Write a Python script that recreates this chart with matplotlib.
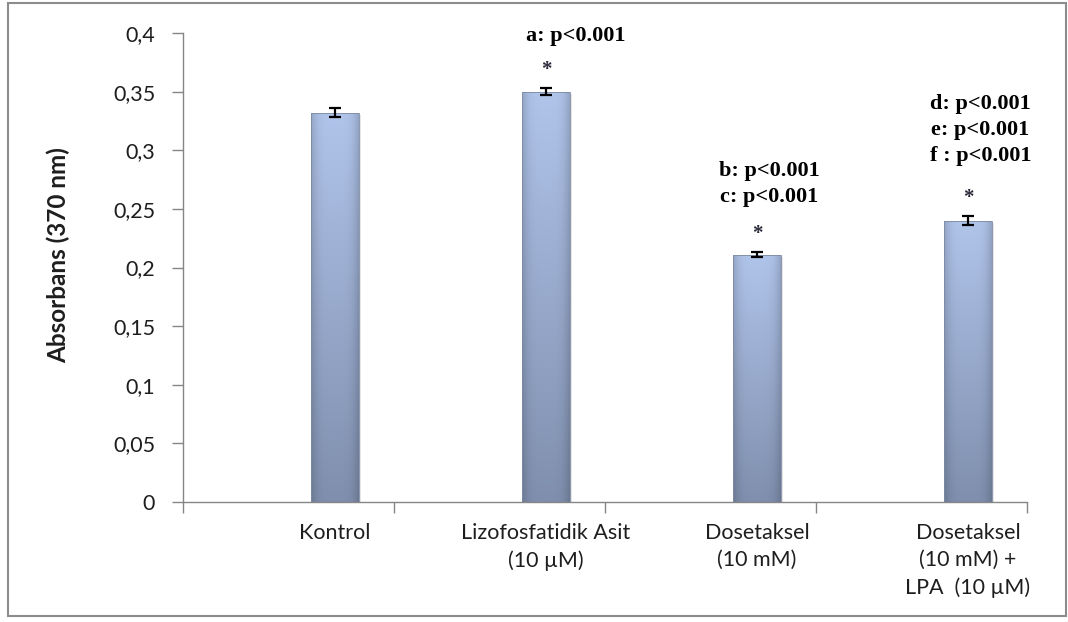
import numpy as np
import matplotlib.pyplot as plt
from matplotlib.patches import Rectangle
from matplotlib.ticker import FuncFormatter

groups = ['Kontrol', 'Lizofosfatidik Asit\n(10 µM)', 'Dosetaksel\n(10 mM)',
          'Dosetaksel\n(10 mM) +\nLPA  (10 µM)']
absorbance = [0.332, 0.350, 0.211, 0.240]
sem = [0.004, 0.003, 0.002, 0.004]
p_notes = ['', 'a: p<0.001', 'b: p<0.001\nc: p<0.001',
           'd: p<0.001\ne: p<0.001\nf : p<0.001']
significant = [False, True, True, True]

text_col = '#1e1e1e'
axis_col = '#868686'

fig = plt.figure(figsize=(10.68, 6.22), dpi=100)
ax = fig.add_axes([0.1713, 0.1929, 0.7903, 0.754])

pos = np.arange(len(groups)) + 0.72
width = 0.225

# vertical gradient + darker sides, like a rounded bar
top = np.array([0.69, 0.77, 0.92])
bottom = np.array([0.50, 0.56, 0.68])
ny, nx = 200, 40
t = np.linspace(0, 1, ny)[:, None, None]
grad = bottom + (top - bottom) * t
u = np.abs(np.linspace(-1, 1, nx))[None, :, None]
shade = 1 - 0.16 * u ** 4
img = np.clip(grad * shade, 0, 1)

for x, v in zip(pos, absorbance):
    sh = Rectangle((x - width / 2 + 0.012, 0), width, v - 0.002,
                   facecolor='#9a9a9a', alpha=0.25, lw=0, zorder=1)
    ax.add_patch(sh)
    rect = Rectangle((x - width / 2, 0), width, v, facecolor='none',
                     edgecolor='#7d8aa5', lw=0.6, zorder=3)
    ax.add_patch(rect)
    im = ax.imshow(img, extent=(x - width / 2, x + width / 2, 0, v),
                   origin='lower', aspect='auto', zorder=2)
    im.set_clip_path(rect)

ax.errorbar(pos, absorbance, yerr=sem, fmt='none', ecolor='black',
            elinewidth=1.6, capsize=4, capthick=1.6, zorder=4)

note_gap = [0, 0.039, 0.041, 0.047]
for x, v, e, note, star, g in zip(pos, absorbance, sem, p_notes, significant, note_gap):
    if star:
        ax.text(x, v + e + 0.007, '*', ha='center', va='bottom',
                fontsize=15, fontweight='bold', family='Liberation Serif',
                color='#2a2a3a', zorder=5)
    if note:
        ax.text(x + 0.14 if note.count('\n') == 0 else x + 0.06, v + g, note,
                ha='center', va='bottom', fontsize=16, fontweight='bold',
                family='Liberation Serif', color='black', linespacing=1.38,
                zorder=5)

ax.set_xlim(0, 4)
ax.set_ylim(0, 0.4)
ax.set_yticks(np.arange(0, 0.401, 0.05))
ax.yaxis.set_major_formatter(FuncFormatter(
    lambda y, _: ('%g' % round(y, 2)).replace('.', ',')))

ax.set_xticks(np.arange(0, 5))
ax.set_xticklabels([])
ax.set_xticks(pos, minor=True)
ax.set_xticklabels(groups, minor=True, linespacing=1.45)
ax.tick_params(axis='x', which='major', direction='out', length=8,
               color=axis_col, width=1)
ax.tick_params(axis='x', which='minor', length=0, pad=15, labelsize=15.5,
               labelcolor=text_col)
ax.tick_params(axis='y', direction='out', length=8, color=axis_col, width=1,
               labelsize=15.5, labelcolor=text_col, pad=12)
for lbl in ax.get_xticklabels(minor=True) + ax.get_yticklabels():
    lbl.set_family('Lato')

for s in ['top', 'right']:
    ax.spines[s].set_visible(False)
for s in ['left', 'bottom']:
    ax.spines[s].set_color(axis_col)
    ax.spines[s].set_linewidth(1)

ax.set_ylabel('Absorbans (370 nm)', fontsize=17.5, fontweight='bold',
              family='Lato', color=text_col)
ax.yaxis.set_label_coords(-0.134, 0.527)

fig.patches.append(Rectangle((0.0075, 0.0096), 0.9905, 0.9856,
                             transform=fig.transFigure, fill=False,
                             edgecolor='#8c8c8c', lw=1.5))

fig.savefig('out.png', dpi=100)
